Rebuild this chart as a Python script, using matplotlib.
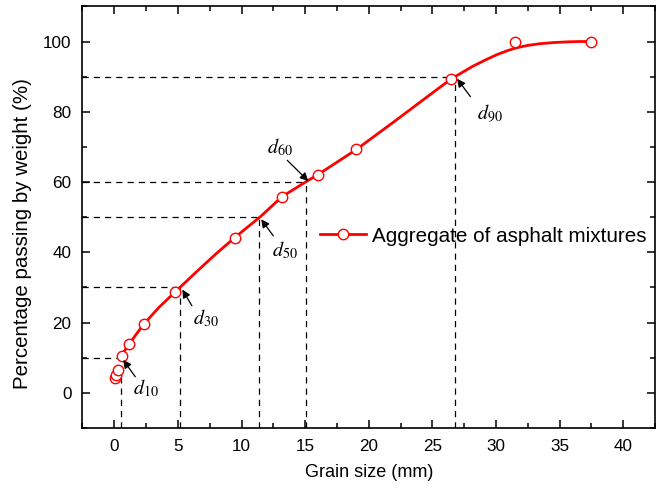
import matplotlib.pyplot as plt
from matplotlib.ticker import MultipleLocator

plt.rcParams['font.family'] = ['Liberation Sans', 'DejaVu Sans']
plt.rcParams['mathtext.fontset'] = 'stix'

# ==========================================
# DATA
# ==========================================
# sieve sizes (mm) and measured passing (%)
sieve_mm = [0.075, 0.15, 0.3, 0.6, 1.18, 2.36, 4.75, 9.5, 13.2, 16, 19, 26.5, 31.5, 37.5]
passing_pct = [4.3, 5.2, 6.4, 10.6, 13.8, 19.5, 28.8, 44.2, 55.8, 62.1, 69.3, 89.4, 100, 100]

# fitted grading curve
curve_x = [0.45, 1.1, 2.3, 3.5, 4.8, 6.5, 8.0, 9.5, 11.5, 13.2, 15.3, 16, 19, 22, 24.5,
           26.5, 27.4, 28.2, 29.2, 30.1, 30.9, 31.6, 32.5, 33.5, 34.5, 35.6, 36.5, 37.5]
curve_y = [10.0, 13.6, 19.5, 24.3, 28.8, 34.6, 39.6, 44.3, 50.2, 55.9, 60.6, 62.1, 69.2, 77.2, 84.0,
           89.4, 91.3, 93.0, 94.8, 96.3, 97.4, 98.2, 98.9, 99.4, 99.7, 99.9, 100.0, 100.0]

# characteristic diameters d10 ... d90
d_pct = [10, 30, 50, 60, 90]
d_mm = [0.55, 5.2, 11.4, 15.1, 26.8]
d_labels = [r'$d_{10}$', r'$d_{30}$', r'$d_{50}$', r'$d_{60}$', r'$d_{90}$']

XMIN, XMAX = -2.5, 42.5
YMIN, YMAX = -10, 110

# arrow tail and label position relative to each d-point (x mm, y %)
arrow_tail = [(1.1, -5.4), (0.9, -5.2), (1.1, -5.3), (-1.5, 6.2), (1.2, -5.7)]
label_off = [(1.9, -8.7), (2.0, -8.8), (2.0, -9.5), (-2.1, 10.0), (2.7, -10.5)]

# ==========================================
# PLOT
# ==========================================
fig = plt.figure(figsize=(6.61, 4.92), dpi=100)
ax = fig.add_axes([0.1248, 0.130, 0.866, 0.857])

# guide lines for the d values
for p, d in zip(d_pct, d_mm):
    ax.plot([XMIN, d], [p, p], color='k', lw=0.9, ls=(0, (5, 4)), zorder=1)
    ax.plot([d, d], [YMIN, p], color='k', lw=0.9, ls=(0, (5, 4)), zorder=1)

ax.plot(curve_x, curve_y, color='#ff0000', lw=2.0, zorder=2)
ax.plot(sieve_mm, passing_pct, ls='none', marker='o', ms=7.5, mfc='white',
        mec='#ff0000', mew=1.0, zorder=3)

for p, d, lab, (tx, ty), (lx, ly) in zip(d_pct, d_mm, d_labels, arrow_tail, label_off):
    ax.annotate('', xy=(d + 0.15, p - 0.6 if ty < 0 else p + 0.3), xytext=(d + tx, p + ty),
                arrowprops=dict(arrowstyle='-|>', color='k', lw=0.9, mutation_scale=12,
                                shrinkA=0, shrinkB=0), zorder=4)
    ax.text(d + lx, p + ly, lab, fontsize=14.5, ha='center', va='center', zorder=4)

# legend entry (line + marker)
ax.plot([], [], color='#ff0000', lw=2.0, marker='o', ms=7.5, mfc='white',
        mec='#ff0000', mew=1.0, label='Aggregate of asphalt mixtures')
ax.legend(loc='center left', bbox_to_anchor=(0.415, 0.455), frameon=False,
          fontsize=14.9, handlelength=2.2, handletextpad=0.3, borderpad=0, borderaxespad=0)

ax.set_xlim(XMIN, XMAX)
ax.set_ylim(YMIN, YMAX)
ax.xaxis.set_major_locator(MultipleLocator(5))
ax.xaxis.set_minor_locator(MultipleLocator(2.5))
ax.yaxis.set_major_locator(MultipleLocator(20))
ax.yaxis.set_minor_locator(MultipleLocator(10))
ax.set_yticks([0, 20, 40, 60, 80, 100])
ax.tick_params(which='both', direction='in', top=True, right=True, width=1.1,
               labelsize=12.3, pad=8)
ax.tick_params(which='major', length=6)
ax.tick_params(which='minor', length=3.5)
for s in ax.spines.values():
    s.set_linewidth(1.2)

ax.set_xlabel('Grain size (mm)', fontsize=13, labelpad=7)
ax.set_ylabel('Percentage passing by weight (%)', fontsize=14.8)
ax.yaxis.set_label_coords(-0.088, 0.462)

fig.savefig('out.png', dpi=100)
